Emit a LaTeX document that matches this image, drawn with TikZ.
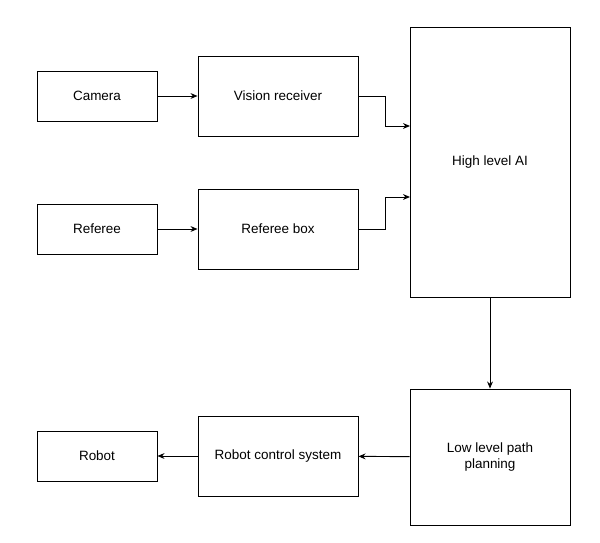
\documentclass[tikz,border=0pt]{standalone}
\usepackage{fontspec}
\setmainfont{Liberation Sans}
\usetikzlibrary{positioning, arrows.meta}
\tikzset{
x=0.03cm, y=-0.03cm, % pixel grid of the drawing
>={Stealth[length=6pt,width=5pt]}, % arrow heads
block/.style={draw, thick, fill=white, minimum height=50*0.03cm, minimum width=120*0.03cm, align=center, font=\fontsize{11.5}{14}\selectfont}, % small input boxes
wide/.style={block, minimum width=160*0.03cm, minimum height=80*0.03cm}, % middle boxes
link/.style={->, thick}, % connectors
}

\begin{document}
\begin{tikzpicture}
    \useasboundingbox (0,0) rectangle (600,542);
    \node[block] (camera) at (97,96) {Camera};
    \node[wide] (vision) at (278,96) {Vision receiver};
    \node[block] (referee) at (97,229) {Referee};
    \node[wide] (refbox) at (278,229) {Referee box};
    \node[wide, minimum height=270*0.03cm] (ai) at (490,162) {High level AI};
    \node[wide, minimum height=136*0.03cm] (plan) at (490,457) {Low level path\\planning};
    \node[wide] (control) at (278,456) {Robot control system};
    \node[block] (robot) at (97,456) {Robot};
    \coordinate (aiIn1) at (410,126);
    \coordinate (aiIn2) at (410,197);
    \draw[link] (camera) -- (vision);
    \draw[link] (referee) -- (refbox);
    \draw[link] (vision.east) -| (385,126) -- (aiIn1);
    \draw[link] (refbox.east) -| (385,197) -- (aiIn2);
    \draw[link] (ai) -- (plan);
    \draw[link] (plan) -- (control);
    \draw[link] (control) -- (robot);
\end{tikzpicture}
\end{document}
